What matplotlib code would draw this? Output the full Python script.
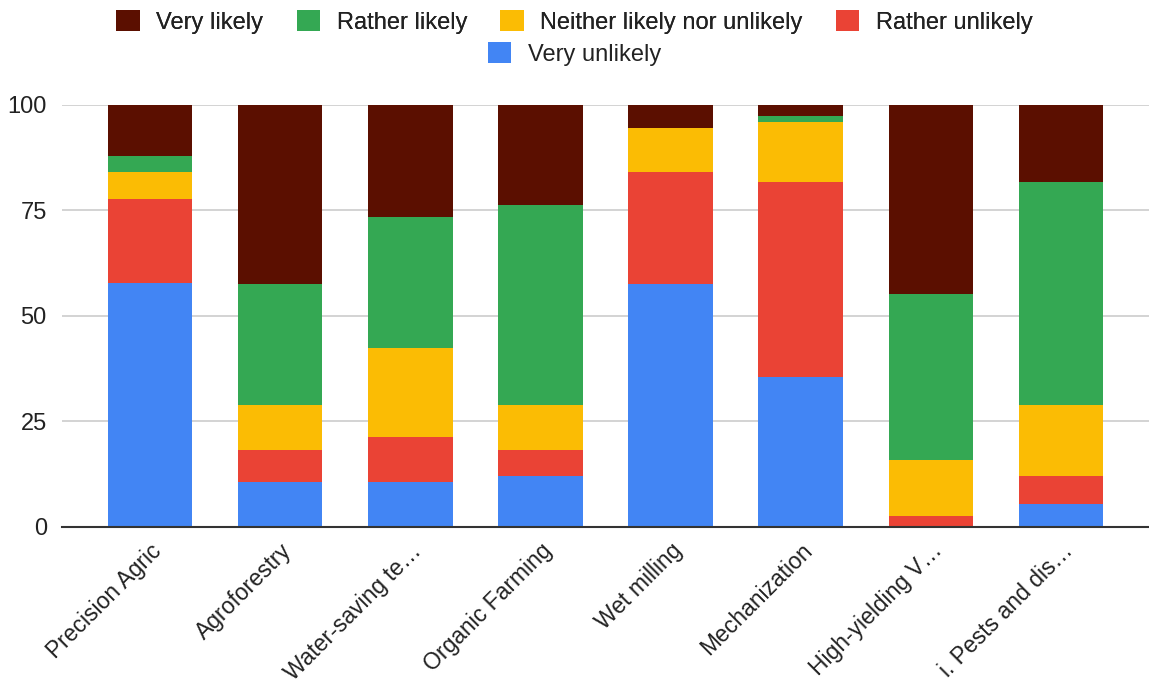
import matplotlib.pyplot as plt
import numpy as np

plt.rcParams['font.family'] = ['Liberation Sans', 'DejaVu Sans']

# Practices (tick labels as shown, long ones are cut short)
practices = ['Precision Agric', 'Agroforestry', 'Water-saving te\u2026', 'Organic Farming',
             'Wet milling', 'Mechanization', 'High-yielding V\u2026', 'i. Pests and dis\u2026']

# Share of answers per practice (%)
very_unlikely = [57.7, 10.7, 10.7, 12.0, 57.6, 35.5, 0.0, 5.4]
rather_unlikely = [20.0, 7.5, 10.5, 6.2, 26.4, 46.1, 2.5, 6.6]
neither = [6.3, 10.7, 21.1, 10.7, 10.5, 14.4, 13.4, 16.9]
rather_likely = [3.8, 28.7, 31.1, 47.3, 0.0, 1.4, 39.3, 52.7]
very_likely = [12.2, 42.4, 26.6, 23.8, 5.5, 2.6, 44.8, 18.4]

series = [
    ('Very unlikely', very_unlikely, '#4285f4'),
    ('Rather unlikely', rather_unlikely, '#ea4335'),
    ('Neither likely nor unlikely', neither, '#fbbc04'),
    ('Rather likely', rather_likely, '#34a853'),
    ('Very likely', very_likely, '#5b0f00'),
]

text_color = '#222222'
font_size = 17

fig = plt.figure(figsize=(11.49, 6.88), dpi=100)
ax = fig.add_axes([0.054, 0.2344, 0.946, 0.6134])

x = np.arange(len(practices))
bottom = np.zeros(len(practices))
bars = {}
for name, vals, color in series:
    bars[name] = ax.bar(x, vals, bottom=bottom, width=0.65, color=color, label=name, zorder=3)
    bottom += np.array(vals)

ax.set_xlim(-0.675, len(practices) - 0.325)
ax.set_ylim(0, 100)
ax.set_yticks([0, 25, 50, 75, 100])
ax.yaxis.grid(True, color='#cccccc', linewidth=1.2, zorder=0)
ax.set_axisbelow(True)
for side in ['top', 'right', 'left']:
    ax.spines[side].set_visible(False)
ax.spines['bottom'].set_color('#333333')
ax.spines['bottom'].set_linewidth(1.5)
ax.spines['bottom'].set_zorder(4)
ax.tick_params(axis='both', length=0, labelsize=font_size, labelcolor=text_color)
ax.tick_params(axis='y', pad=11)
ax.set_xticks(x)
ax.set_xticklabels(practices, rotation=45, ha='right', va='top', rotation_mode='anchor',
                   fontsize=16.5)
ax.tick_params(axis='x', pad=9)

# Legend: four entries on the first row, the last one centred below
order_top = ['Very likely', 'Rather likely', 'Neither likely nor unlikely', 'Rather unlikely']
leg_kw = dict(frameon=False, fontsize=font_size, handlelength=1.0, handleheight=1.0,
              handletextpad=0.7, columnspacing=1.4, labelcolor=text_color, borderaxespad=0)
leg1 = fig.legend([bars[n] for n in order_top], order_top, ncol=4,
                  loc='center', bbox_to_anchor=(0.5, 1 - 22 / 688), **leg_kw)
fig.add_artist(leg1)
fig.legend([bars['Very unlikely']], ['Very unlikely'], ncol=1,
           loc='center', bbox_to_anchor=(0.5, 1 - 54 / 688), **leg_kw)

fig.savefig('out.png', dpi=100)
